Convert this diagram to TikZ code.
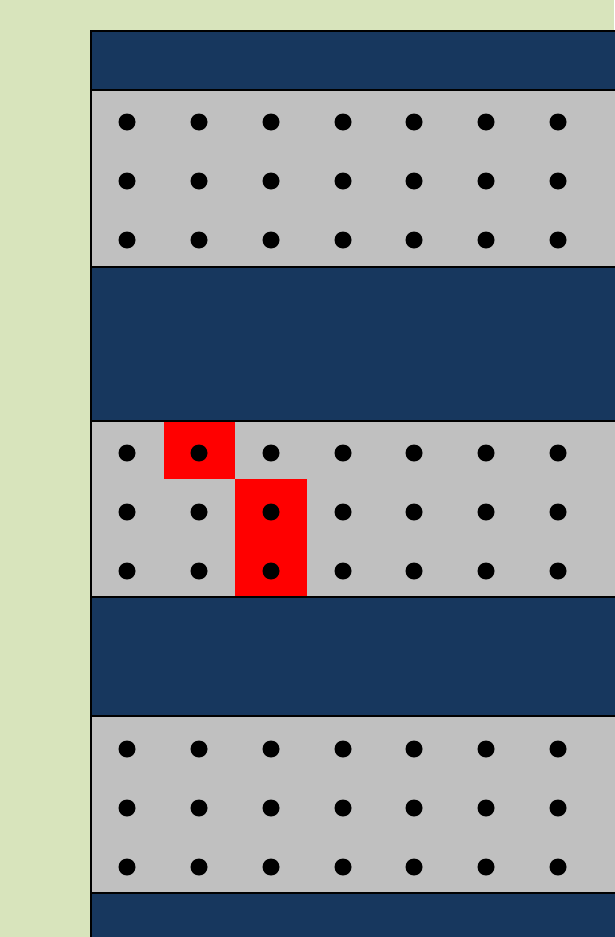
\documentclass[tikz,border=0pt]{standalone}
\definecolor{bgg}{HTML}{D8E4BC}
\definecolor{navy}{HTML}{17375E}
\definecolor{cellgray}{HTML}{C0C0C0}
\tikzset{
  band/.style={fill=navy,draw=black,line width=2pt},
  grayband/.style={fill=cellgray,draw=black,line width=2pt},
  redcell/.style={fill=red,draw=none},
  dot/.style={fill=black,draw=none}
}
\begin{document}
\begin{tikzpicture}[x=1pt,y=-1pt]
\useasboundingbox (0,0) rectangle (614,937);
\fill[bgg] (0,0) rectangle (614,937);
% bands
\path[band] (91,31) rectangle (620,90);
\path[grayband] (91,90) rectangle (620,267);
\path[band] (91,267) rectangle (620,421);
\path[grayband] (91,421) rectangle (620,597);
\path[band] (91,597) rectangle (620,716);
\path[grayband] (91,716) rectangle (620,893);
\path[band] (91,893) rectangle (620,945);
% red cells
\fill[red] (164,422) rectangle (235,479);
\fill[red] (235,479) rectangle (307,596);
% dots
\foreach \y in {122,181,240,453,512,571,749,808,867}{
  \foreach \x in {127,199,271,343,414,486,558}{
    \fill[black] (\x,\y) circle (8.5);
  }
}
\end{tikzpicture}
\end{document}
